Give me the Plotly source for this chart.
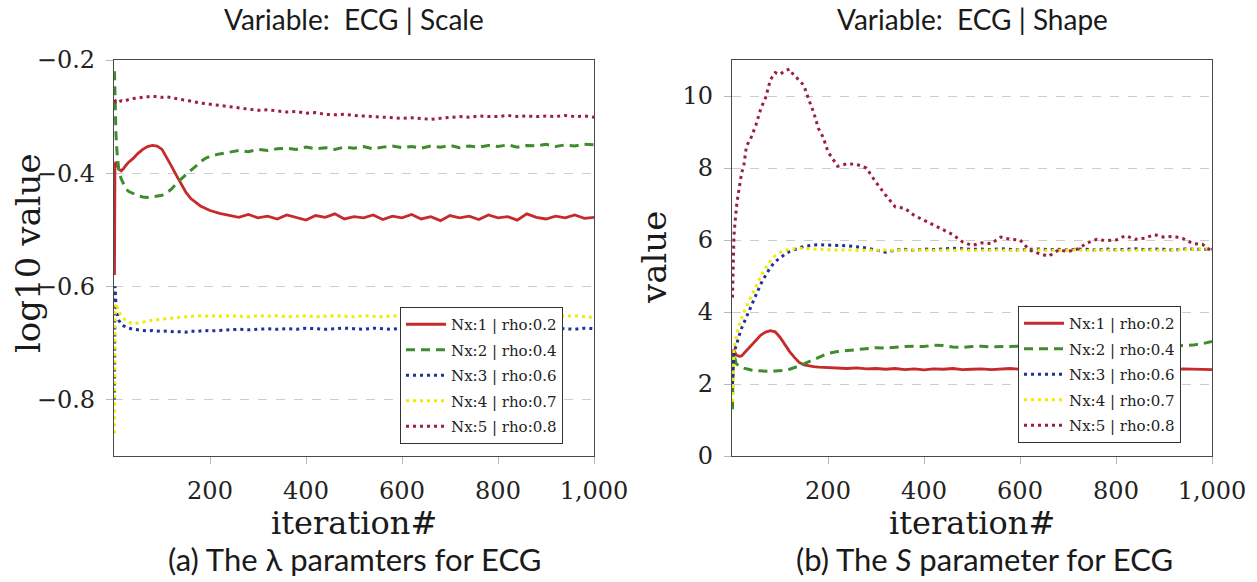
import plotly.graph_objects as go

W, H = 1257, 582

iterations = [1, 2, 4, 6, 8, 10, 15, 20, 25, 30,
              40, 50, 60, 70, 80, 90, 100, 110, 120, 130, 140, 150, 160, 170, 180, 190, 200,
              220, 240, 260, 280, 300, 320, 340, 360, 380, 400,
              420, 440, 460, 480, 500, 520, 540, 560, 580, 600,
              620, 640, 660, 680, 700, 720, 740, 760, 780, 800,
              820, 840, 860, 880, 900, 920, 940, 960, 980, 1000]

series_names = ["Nx:1 | rho:0.2", "Nx:2 | rho:0.4", "Nx:3 | rho:0.6", "Nx:4 | rho:0.7", "Nx:5 | rho:0.8"]

# ---- panel (a): log10 lambda ----
scale_nx1 = [-0.58, -0.385, -0.38, -0.385, -0.39, -0.393, -0.396, -0.392, -0.386, -0.381,
             -0.374, -0.365, -0.358, -0.353, -0.351, -0.352, -0.358, -0.372, -0.388, -0.404, -0.42, -0.434, -0.445, -0.452, -0.458, -0.462, -0.466,
             -0.471, -0.474, -0.478, -0.473, -0.479, -0.476, -0.481, -0.474, -0.478, -0.483,
             -0.475, -0.478, -0.472, -0.481, -0.477, -0.479, -0.474, -0.482, -0.476, -0.479,
             -0.473, -0.481, -0.477, -0.484, -0.475, -0.479, -0.476, -0.482, -0.474, -0.479,
             -0.477, -0.483, -0.472, -0.478, -0.481, -0.476, -0.479, -0.474, -0.480, -0.478]
scale_nx2 = [-0.22, -0.27, -0.33, -0.36, -0.38, -0.395, -0.41, -0.42, -0.428, -0.432,
             -0.436, -0.44, -0.442, -0.443, -0.442, -0.441, -0.439, -0.435, -0.428, -0.418, -0.41, -0.403, -0.395, -0.388, -0.38, -0.374, -0.37,
             -0.366, -0.363, -0.36, -0.362, -0.358, -0.36, -0.357, -0.356, -0.358, -0.354,
             -0.357, -0.355, -0.358, -0.354, -0.356, -0.353, -0.357, -0.354, -0.352, -0.355,
             -0.353, -0.356, -0.352, -0.354, -0.351, -0.355, -0.352, -0.354, -0.351, -0.353,
             -0.350, -0.354, -0.351, -0.352, -0.349, -0.353, -0.350, -0.352, -0.349, -0.350]
scale_nx3 = [-0.80, -0.60, -0.63, -0.645, -0.655, -0.66, -0.667, -0.67, -0.672, -0.674,
             -0.676, -0.677, -0.678, -0.679, -0.678, -0.679, -0.68, -0.679, -0.68, -0.681, -0.68, -0.681, -0.679, -0.68, -0.679, -0.678, -0.679,
             -0.678, -0.677, -0.676, -0.677, -0.676, -0.675, -0.676, -0.675, -0.676, -0.674,
             -0.675, -0.676, -0.675, -0.674, -0.675, -0.676, -0.674, -0.675, -0.676, -0.674,
             -0.675, -0.674, -0.676, -0.675, -0.674, -0.675, -0.676, -0.674, -0.675, -0.674,
             -0.676, -0.675, -0.674, -0.675, -0.676, -0.674, -0.675, -0.676, -0.674, -0.675]
scale_nx4 = [-0.86, -0.66, -0.63, -0.635, -0.64, -0.645, -0.652, -0.657, -0.661, -0.664,
             -0.666, -0.665, -0.663, -0.661, -0.66, -0.659, -0.658, -0.657, -0.656, -0.655, -0.655, -0.654, -0.653, -0.653, -0.652, -0.653, -0.652,
             -0.653, -0.652, -0.653, -0.654, -0.652, -0.653, -0.652, -0.654, -0.653, -0.652,
             -0.654, -0.653, -0.652, -0.653, -0.654, -0.652, -0.653, -0.654, -0.652, -0.653,
             -0.652, -0.654, -0.653, -0.652, -0.653, -0.654, -0.652, -0.653, -0.654, -0.653,
             -0.652, -0.653, -0.654, -0.652, -0.653, -0.654, -0.653, -0.652, -0.654, -0.655]
scale_nx5 = [-0.27, -0.272, -0.274, -0.273, -0.275, -0.274, -0.272, -0.273, -0.271, -0.27,
             -0.268, -0.267, -0.265, -0.264, -0.264, -0.265, -0.266, -0.265, -0.267, -0.268, -0.27, -0.271, -0.273, -0.274, -0.276, -0.277, -0.278,
             -0.281, -0.283, -0.285, -0.287, -0.289, -0.288, -0.29, -0.292, -0.291, -0.294,
             -0.293, -0.296, -0.297, -0.296, -0.298, -0.299, -0.300, -0.301, -0.302, -0.303,
             -0.302, -0.304, -0.305, -0.303, -0.302, -0.300, -0.301, -0.299, -0.300, -0.300,
             -0.298, -0.300, -0.299, -0.300, -0.299, -0.300, -0.298, -0.300, -0.299, -0.301]

# ---- panel (b): S ----
shape_nx1 = [2.6, 2.9, 2.95, 2.88, 2.82, 2.8, 2.77, 2.78, 2.85, 2.93,
             3.07, 3.22, 3.36, 3.44, 3.48, 3.45, 3.3, 3.1, 2.9, 2.74, 2.6, 2.53, 2.5, 2.48, 2.47, 2.46, 2.45,
             2.44, 2.43, 2.45, 2.42, 2.43, 2.41, 2.43, 2.40, 2.42, 2.39,
             2.42, 2.41, 2.43, 2.40, 2.41, 2.42, 2.40, 2.41, 2.43, 2.41,
             2.42, 2.40, 2.41, 2.43, 2.41, 2.40, 2.42, 2.41, 2.39, 2.41,
             2.42, 2.40, 2.41, 2.43, 2.41, 2.40, 2.42, 2.41, 2.39, 2.40]
shape_nx2 = [1.3, 2.4, 2.85, 2.7, 2.6, 2.55, 2.5, 2.47, 2.44, 2.42,
             2.39, 2.37, 2.36, 2.35, 2.35, 2.36, 2.36, 2.38, 2.41, 2.45, 2.5, 2.56, 2.62, 2.68, 2.74, 2.8, 2.85,
             2.9, 2.93, 2.96, 2.99, 3.01, 3.0, 3.03, 3.04, 3.05, 3.04,
             3.08, 3.07, 3.03, 3.02, 3.04, 3.05, 3.03, 3.04, 3.06, 3.05,
             3.03, 3.02, 3.04, 3.03, 3.05, 3.02, 3.04, 3.03, 3.01, 3.03,
             3.02, 3.04, 3.03, 3.02, 3.04, 3.05, 3.06, 3.08, 3.12, 3.18]
shape_nx3 = [2.0, 2.5, 2.8, 2.95, 3.05, 3.15, 3.35, 3.55, 3.7, 3.85,
             4.15, 4.48, 4.78, 5.02, 5.24, 5.4, 5.51, 5.6, 5.68, 5.74, 5.78, 5.82, 5.85, 5.86, 5.87, 5.86, 5.87,
             5.85, 5.84, 5.82, 5.78, 5.72, 5.66, 5.72, 5.74, 5.71, 5.75,
             5.73, 5.76, 5.77, 5.76, 5.74, 5.75, 5.73, 5.76, 5.74, 5.72,
             5.74, 5.75, 5.73, 5.74, 5.72, 5.75, 5.74, 5.72, 5.75, 5.73,
             5.74, 5.76, 5.73, 5.75, 5.74, 5.72, 5.75, 5.74, 5.73, 5.74]
shape_nx4 = [1.5, 2.3, 2.9, 3.1, 3.25, 3.4, 3.65, 3.85, 4.0, 4.15,
             4.45, 4.75, 5.0, 5.22, 5.42, 5.56, 5.65, 5.71, 5.74, 5.76, 5.77, 5.76, 5.75, 5.74, 5.74, 5.73, 5.73,
             5.72, 5.73, 5.71, 5.72, 5.73, 5.72, 5.71, 5.72, 5.73, 5.72,
             5.71, 5.72, 5.73, 5.72, 5.71, 5.72, 5.73, 5.72, 5.71, 5.72,
             5.73, 5.72, 5.71, 5.72, 5.73, 5.72, 5.71, 5.72, 5.73, 5.72,
             5.71, 5.72, 5.73, 5.72, 5.71, 5.72, 5.73, 5.74, 5.75, 5.76]
shape_nx5 = [4.4, 5.5, 6.1, 6.45, 6.8, 7.0, 7.45, 7.85, 8.1, 8.6,
             8.85, 9.2, 9.65, 9.95, 10.45, 10.65, 10.6, 10.7, 10.75, 10.55, 10.45, 10.28, 9.9, 9.55, 9.1, 8.85, 8.45,
             8.05, 8.12, 8.1, 8.0, 7.6, 7.25, 6.92, 6.88, 6.68, 6.55,
             6.42, 6.3, 6.15, 5.95, 5.85, 5.92, 5.9, 6.08, 6.02, 6.0,
             5.72, 5.62, 5.55, 5.72, 5.68, 5.75, 5.92, 6.02, 5.98, 6.0,
             6.12, 6.02, 6.05, 6.15, 6.08, 6.1, 6.04, 5.9, 5.88, 5.68]

x_ticks = [200, 400, 600, 800, 1000]
scale_ticks = [-0.8, -0.6, -0.4, -0.2]
shape_ticks = [0, 2, 4, 6, 8, 10]

colors = ["#c62a2a", "#3f8c2c", "#22309c", "#f0ec00", "#9c1f3c"]
dashes = ["solid", "9px,6px", "3px,4px", "3px,4px", "3px,4px"]
widths = [2.8, 3, 3, 3, 3]

SERIF = "DejaVu Serif"
SANS = "Lato"

fig = go.Figure()
panels = [(scale_nx1, scale_nx2, scale_nx3, scale_nx4, scale_nx5),
          (shape_nx1, shape_nx2, shape_nx3, shape_nx4, shape_nx5)]
for p, data in enumerate(panels):
    for i, ys in enumerate(data):
        fig.add_trace(go.Scatter(
            x=iterations, y=ys, mode="lines", name=series_names[i],
            line=dict(color=colors[i], width=widths[i], dash=dashes[i]),
            xaxis="x" if p == 0 else "x2", yaxis="y" if p == 0 else "y2",
            legend="legend" if p == 0 else "legend2",
            legendgroup=f"p{p}s{i}",
        ))

def px2x(px):
    return px / W

def py2y(py):
    return 1 - py / H

ydom = [py2y(456), py2y(60)]
axis_common = dict(showline=True, linecolor="#4a4a4a", linewidth=1.3, mirror=True,
                   ticks="outside", ticklen=7, tickcolor="#b8b8b8", tickwidth=1,
                   tickfont=dict(family=SERIF, size=24, color="#222"), zeroline=False,
                   automargin=False)

legend_common = dict(xanchor="left", yanchor="top", bordercolor="#333", borderwidth=1,
                     bgcolor="white", font=dict(family=SERIF, size=15, color="#222"),
                     traceorder="grouped", tracegroupgap=3, itemwidth=40)

fig.update_layout(
    template="none",
    width=W, height=H, autosize=False,
    margin=dict(l=0, r=0, t=0, b=0, autoexpand=False),
    paper_bgcolor="white", plot_bgcolor="white",
    xaxis=dict(domain=[px2x(114), px2x(594)], range=[0, 1000], tickvals=x_ticks, tickformat=",d",
               showgrid=False, anchor="y", ticklabelstandoff=6, **axis_common),
    yaxis=dict(domain=ydom, range=[-0.9, -0.2], tickvals=scale_ticks, showgrid=True,
               gridcolor="#c9ced4", griddash="dash", gridwidth=1, anchor="x",
               ticklabelstandoff=6, **axis_common),
    xaxis2=dict(domain=[px2x(732), px2x(1212)], range=[0, 1000], tickvals=x_ticks, tickformat=",d",
                showgrid=False, anchor="y2", ticklabelstandoff=6, **axis_common),
    yaxis2=dict(domain=ydom, range=[0, 11], tickvals=shape_ticks, showgrid=True,
                gridcolor="#c9ced4", griddash="dash", gridwidth=1, anchor="x2",
                ticklabelstandoff=6, **axis_common),
    legend=dict(x=px2x(400), y=py2y(307), **legend_common),
    legend2=dict(x=px2x(1018), y=py2y(306), **legend_common),
    showlegend=True,
)

ann = []
def add_text(text, px, py, family, size, angle=0):
    ann.append(dict(text=text, x=px2x(px), y=py2y(py), xref="paper", yref="paper",
                    xanchor="center", yanchor="middle", showarrow=False, textangle=angle,
                    font=dict(family=family, size=size, color="#1a1a1a")))

add_text("Variable:  ECG | Scale", 354, 19, SANS, 28)
add_text("Variable:  ECG | Shape", 972, 19, SANS, 28)
add_text("iteration#", 354, 523, SERIF, 32)
add_text("iteration#", 972, 523, SERIF, 32)
add_text("log10 value", 28, 253, SERIF, 34, -90)
add_text("value", 654, 258, SERIF, 34, -90)
add_text("(a) The λ paramters for ECG", 354, 559, SANS, 31)
add_text("(b) The <i>S</i> parameter for ECG", 984, 559, SANS, 31)
fig.update_layout(annotations=ann)

fig.write_html("out.html", config={"displayModeBar": False},
               post_script="document.body.style.margin='0px';document.body.style.overflow='hidden';")
